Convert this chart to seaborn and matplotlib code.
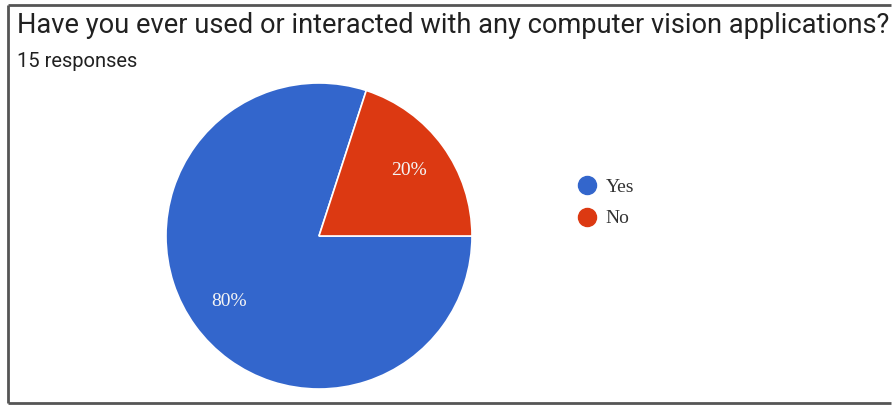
import matplotlib
matplotlib.use("Agg")
import matplotlib.pyplot as plt
import seaborn as sns
from matplotlib.lines import Line2D

title = "Have you ever used or interacted with any computer vision applications?"
subtitle = "15 responses"
categories = ["Yes", "No"]
shares = [80, 20]
colors = ["#3366cc", "#dc3912"]

sns.set_theme(style="white")
plt.rcParams['font.family'] = ['Roboto', 'DejaVu Sans']

W, H = 892, 405
fig = plt.figure(figsize=(W / 100, H / 100), dpi=100)
fig.patch.set_facecolor("white")

# pie axes
cx, cy, r = 319, 236, 153
ax = fig.add_axes([(cx - r) / W, (H - cy - r) / H, 2 * r / W, 2 * r / H])
wedges, texts, autotexts = ax.pie(
    shares, colors=colors, startangle=72, counterclock=True,
    autopct=lambda p: f"{p:.0f}%", pctdistance=0.73,
    wedgeprops=dict(edgecolor="white", linewidth=1.2),
    textprops=dict(color="white", fontsize=14, family="Liberation Serif"),
)
for t in autotexts:
    t.set_color("#f4f4f4")
ax.set_xlim(-1, 1)
ax.set_ylim(-1, 1)
ax.set_aspect("equal")
ax.axis("off")

# texts
fig.text(17 / W, 1 - 33 / H, title, fontsize=19.6, color="#212121",
         ha="left", va="baseline", family="Roboto")
fig.text(17 / W, 1 - 67 / H, subtitle, fontsize=14.5, color="#212121",
         ha="left", va="baseline", family="Roboto")

# legend
handles = [Line2D([], [], marker="o", linestyle="", markersize=13,
                  markerfacecolor=c, markeredgecolor=c) for c in colors]
leg = fig.legend(handles, categories, loc="upper left",
                 bbox_to_anchor=(555 / W, 1 - 161 / H), frameon=False,
                 prop=dict(family="Liberation Serif", size=14),
                 handletextpad=0.2, labelspacing=0.7, handlelength=1.5)
for t in leg.get_texts():
    t.set_color("#333333")

# frame (left, top, bottom; no right edge)
x0, x1 = 7.5 / W, 0.999
yt, yb = 1 - 4.5 / H, 1 - 403 / H
for xs, ys in [([x0, x0], [yt, yb]), ([x0, x1], [yt, yt]), ([x0, x1], [yb, yb])]:
    fig.add_artist(Line2D(xs, ys, transform=fig.transFigure,
                          color="#555555", lw=2, solid_capstyle="butt"))

fig.savefig("out.png", dpi=100)
